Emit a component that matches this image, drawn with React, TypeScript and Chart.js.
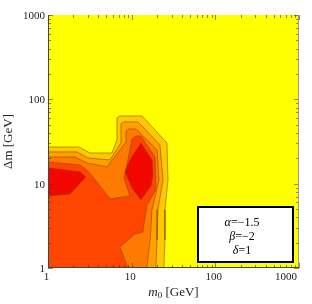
import React, { useEffect, useRef } from "react";
import { Chart, registerables } from "chart.js";

Chart.register(...registerables);

// ---- axes ----
const axisMin = 1;
const axisMax = 1000;
const tickValues = [1, 10, 100, 1000];
const tickLabels = ["1", "10", "100", "1000"];
const yTitle = "Δm [GeV]";
const xTitleParts = ["m", "0", " [GeV]"];
const paramSymbols = ["α", "β", "δ"];
const paramValues = ["=−1.5", "=−2", "=1"];

// ---- contour regions (m0 [GeV], Δm [GeV]) ----
// level 1 (gold)
const goldM0 = [1, 2.35, 3.18, 5.82, 6.67, 6.67, 7.25, 13.3, 26.4, 27.2, 25.0, 25.0, 24.3, 1];
const goldDm = [27.2, 27.2, 23.1, 23.1, 33.0, 60.2, 63.5, 63.5, 30.4, 11.1, 4.9, 2.15, 1, 1];
// level 2 (orange)
const orangeM0 = [1, 2.22, 3.0, 5.5, 7.45, 7.45, 8.09, 11.9, 21.8, 23.7, 20.6, 20.1, 19.5, 1];
const orangeDm = [23.8, 23.8, 20.2, 19.1, 30.4, 51.1, 54.0, 54.0, 28.8, 11.1, 4.9, 2.15, 1, 1];
// level 3 (dark orange)
const darkM0 = [1, 2.1, 2.92, 5.07, 8.55, 8.55, 9.28, 11.3, 20.1, 21.2, 17.5, 16.6, 15.2, 1];
const darkDm = [20.7, 20.7, 17.6, 15.8, 31.2, 42.2, 44.6, 44.6, 25.1, 11.1, 4.9, 2.15, 1, 1];
// level 4 (red-orange)
const redOrangeM0 = [1, 2.41, 3.0, 3.85, 5.5, 9.55, 8.09, 9.03, 10.1, 11.3, 12.9, 19.0, 19.5, 15.2, 13.6, 10.9, 7.25, 9.03, 1];
const redOrangeDm = [18.1, 16.7, 14.1, 10.5, 6.6, 7.15, 11.7, 19.1, 33.9, 36.8, 36.8, 20.7, 8.4, 5.59, 2.67, 2.53, 1.77, 1, 1];
// level 5 (red), two islands
const redLeftM0 = [1, 2.41, 2.84, 1.83, 1];
const redLeftDm = [15.4, 13.8, 12.0, 7.55, 7.15];
const redRightM0 = [12.9, 17.5, 18.0, 17.0, 12.9, 10.1, 8.32, 9.81];
const redRightDm = [30.4, 19.1, 12.7, 9.4, 6.4, 8.9, 13.8, 20.2];

const bgColor = "#ffff00";
const goldColor = "rgb(255,200,0)";
const orangeColor = "rgb(255,160,0)";
const darkColor = "rgb(255,122,0)";
const redOrangeColor = "rgb(255,70,0)";
const redColor = "rgb(242,6,0)";
const lineColor = "rgba(130,70,0,0.55)";

function closed(xs: number[], ys: number[]) {
  const pts = xs.map((x, i) => ({ x, y: ys[i] }));
  pts.push({ x: xs[0], y: ys[0] });
  return pts;
}

function region(xs: number[], ys: number[], color: string) {
  return {
    data: closed(xs, ys),
    showLine: true,
    fill: "shape",
    backgroundColor: color,
    borderColor: lineColor,
    borderWidth: 1,
    pointRadius: 0,
    tension: 0,
  };
}

const decor = {
  id: "decor",
  beforeDatasetsDraw(chart: any) {
    const { ctx, chartArea: a } = chart;
    ctx.save();
    ctx.fillStyle = bgColor;
    ctx.fillRect(a.left, a.top, a.right - a.left, a.bottom - a.top);
    ctx.restore();
  },
  afterDraw(chart: any) {
    const { ctx, chartArea: a, scales } = chart;
    const xs = scales.x;
    const ys = scales.y;
    ctx.save();
    // minor + major ticks, inward on all sides
    const vals: number[] = [];
    for (let d = 1; d < axisMax; d *= 10) for (let k = 1; k < 10; k++) vals.push(d * k);
    vals.push(axisMax);
    ctx.strokeStyle = "rgba(70,60,0,0.6)";
    ctx.lineWidth = 1;
    ctx.beginPath();
    for (const v of vals) {
      const major = tickValues.includes(v);
      const len = major ? 5 : 3;
      const px = Math.round(xs.getPixelForValue(v)) + 0.5;
      const py = Math.round(ys.getPixelForValue(v)) + 0.5;
      ctx.moveTo(px, a.bottom);
      ctx.lineTo(px, a.bottom - len);
      ctx.moveTo(px, a.top);
      ctx.lineTo(px, a.top + len);
      ctx.moveTo(a.left, py);
      ctx.lineTo(a.left + len, py);
      ctx.moveTo(a.right, py);
      ctx.lineTo(a.right - len, py);
    }
    ctx.stroke();
    // frame
    ctx.strokeStyle = "#999";
    ctx.beginPath();
    ctx.moveTo(a.right - 0.5, a.top);
    ctx.lineTo(a.right - 0.5, a.bottom);
    ctx.stroke();
    ctx.strokeStyle = "#444";
    ctx.beginPath();
    ctx.moveTo(a.left + 0.5, a.top);
    ctx.lineTo(a.left + 0.5, a.bottom);
    ctx.moveTo(a.left, a.bottom - 0.5);
    ctx.lineTo(a.right, a.bottom - 0.5);
    ctx.stroke();

    // tick labels
    ctx.fillStyle = "#222";
    ctx.font = "11px 'Liberation Serif'";
    ctx.textAlign = "right";
    ctx.textBaseline = "middle";
    tickValues.forEach((v, i) => {
      ctx.fillText(tickLabels[i], a.left - 3, ys.getPixelForValue(v) + 1);
    });
    ctx.textBaseline = "top";
    tickValues.forEach((v, i) => {
      const px = xs.getPixelForValue(v);
      if (i === tickValues.length - 1) {
        ctx.textAlign = "right";
        ctx.fillText(tickLabels[i], a.right - 2, a.bottom + 4);
      } else {
        ctx.textAlign = "center";
        ctx.fillText(tickLabels[i], px - 1.5, a.bottom + 4);
      }
    });

    // x title: italic m, subscript 0, [GeV]
    const f1 = "italic 13px 'Liberation Serif'";
    const f2 = "9px 'Liberation Serif'";
    const f3 = "13px 'Liberation Serif'";
    ctx.font = f1;
    const w1 = ctx.measureText(xTitleParts[0]).width;
    ctx.font = f2;
    const w2 = ctx.measureText(xTitleParts[1]).width;
    ctx.font = f3;
    const w3 = ctx.measureText(xTitleParts[2]).width;
    const cx = (a.left + a.right) / 2;
    let tx = cx - (w1 + w2 + w3) / 2;
    const base = a.bottom + 28;
    ctx.textAlign = "left";
    ctx.textBaseline = "alphabetic";
    ctx.font = f1;
    ctx.fillText(xTitleParts[0], tx, base);
    tx += w1;
    ctx.font = f2;
    ctx.fillText(xTitleParts[1], tx, base + 2);
    tx += w2;
    ctx.font = f3;
    ctx.fillText(xTitleParts[2], tx, base);

    // y title
    ctx.save();
    ctx.translate(a.left - 39, (a.top + a.bottom) / 2);
    ctx.rotate(-Math.PI / 2);
    ctx.font = f3;
    ctx.textAlign = "center";
    ctx.textBaseline = "middle";
    ctx.fillText(yTitle, 0, 0);
    ctx.restore();

    // parameter box
    const bw = 95;
    const bh = 55;
    const bx = a.right - 101;
    const by = a.bottom - 61;
    ctx.fillStyle = "#fff";
    ctx.fillRect(bx, by, bw, bh);
    ctx.strokeStyle = "#000";
    ctx.lineWidth = 2;
    ctx.strokeRect(bx, by, bw, bh);
    ctx.fillStyle = "#000";
    ctx.textBaseline = "middle";
    paramSymbols.forEach((s, i) => {
      const fs = "italic 12px 'Liberation Serif'";
      const fv = "12px 'Liberation Serif'";
      ctx.font = fs;
      const ws = ctx.measureText(s).width;
      ctx.font = fv;
      const wv = ctx.measureText(paramValues[i]).width;
      const x0 = bx + 44 - (ws + wv) / 2;
      const y0 = by + 16 + i * 14;
      ctx.textAlign = "left";
      ctx.font = fs;
      ctx.fillText(s, x0, y0);
      ctx.font = fv;
      ctx.fillText(paramValues[i], x0 + ws, y0);
    });
    ctx.restore();
  },
};

export default function App() {
  const ref = useRef<HTMLCanvasElement>(null);
  useEffect(() => {
    document.body.style.margin = "0";
    const canvas = ref.current;
    if (!canvas) return;
    const chart = new Chart(canvas, {
      type: "scatter",
      data: {
        datasets: [
          region(redLeftM0, redLeftDm, redColor),
          region(redRightM0, redRightDm, redColor),
          region(redOrangeM0, redOrangeDm, redOrangeColor),
          region(darkM0, darkDm, darkColor),
          region(orangeM0, orangeDm, orangeColor),
          region(goldM0, goldDm, goldColor),
        ] as any,
      },
      options: {
        animation: false,
        responsive: false,
        devicePixelRatio: 1,
        layout: { padding: { left: 48, right: 13, top: 15, bottom: 36 } },
        plugins: {
          legend: { display: false },
          tooltip: { enabled: false },
        },
        scales: {
          x: { type: "logarithmic", min: axisMin, max: axisMax, display: false },
          y: { type: "logarithmic", min: axisMin, max: axisMax, display: false },
        },
      } as any,
      plugins: [decor],
    });
    return () => chart.destroy();
  }, []);
  return <canvas ref={ref} width={312} height={304} style={{ display: "block" }} />;
}
